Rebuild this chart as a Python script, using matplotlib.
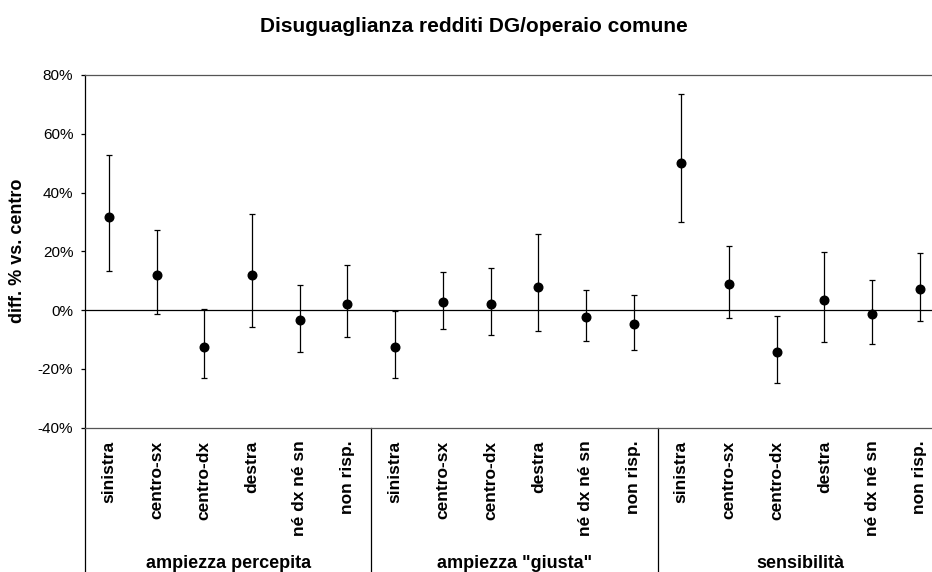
import numpy as np
import matplotlib
matplotlib.use('Agg')
import matplotlib.pyplot as plt
import matplotlib.ticker as ticker
import matplotlib.transforms as mtransforms

plt.rcParams['font.family'] = ['Liberation Sans', 'DejaVu Sans']

Categories = ['sinistra', 'centro-sx', 'centro-dx', 'destra', 'né dx né sn', 'non risp.']
Groups = ['ampiezza percepita', 'ampiezza "giusta"', 'sensibilità']

# stima (%) e intervallo (limite superiore / inferiore)
Mean = np.array([31.6, 11.8, -12.5, 11.8, -3.5, 2.0,
                 -12.5, 2.7, 2.0, 7.9, -2.4, -4.6,
                 50.2, 8.9, -14.3, 3.5, -1.4, 7.0])
Upper = np.array([52.7, 27.1, 0.2, 32.8, 8.6, 15.2,
                  -0.3, 13.0, 14.3, 25.8, 6.7, 5.2,
                  73.7, 21.8, -2.0, 19.9, 10.3, 19.3])
Lower = np.array([13.4, -1.5, -23.3, -5.9, -14.3, -9.3,
                  -23.1, -6.6, -8.6, -7.3, -10.6, -13.6,
                  30.0, -2.7, -25.0, -10.8, -11.7, -3.6])

Title = 'Disuguaglianza redditi DG/operaio comune'
YLabel = 'diff. % vs. centro'

W, H = 932.0, 572.0
fig = plt.figure(figsize=(W/100, H/100), dpi=100)
# the plot area runs past the right edge of the picture, like the original
ax = fig.add_axes([85.1/W, 1 - 427.5/H, 858.6/W, 352.5/H])

n_cat = len(Categories) * len(Groups)
x = np.arange(n_cat)
labels = Categories * len(Groups)

ax.axhline(0, color='k', lw=0.9, zorder=1)
ax.errorbar(x, Mean, yerr=[Mean - Lower, Upper - Mean], fmt='o', color='k',
            ecolor='k', elinewidth=0.9, capsize=2.5, capthick=0.9, ms=6.2, zorder=3)

ax.set_xlim(-0.5, n_cat - 0.5)
ax.set_ylim(-40, 80)
ax.yaxis.set_major_locator(ticker.MultipleLocator(20))
ax.yaxis.set_major_formatter(ticker.FuncFormatter(lambda v, p: '%d%%' % v))
ax.tick_params(axis='y', labelsize=11, length=3, width=0.9, pad=5.5)

ax.set_xticks(x)
ax.set_xticklabels(labels, rotation=90, fontsize=12.5, fontweight='bold', va='top')
ax.tick_params(axis='x', length=0, pad=9.5)

ax.spines['right'].set_visible(False)
ax.spines['top'].set_color('#555555')
ax.spines['bottom'].set_color('#555555')
ax.spines['left'].set_color('k')
for s in ['top', 'bottom', 'left']:
	ax.spines[s].set_linewidth(0.9)

# group separators under the category axis
trans = mtransforms.blended_transform_factory(ax.transData, ax.transAxes)
for xd in [-0.5, 5.5, 11.5]:
	ax.plot([xd, xd], [0, -0.5], color='k', lw=0.9, transform=trans, clip_on=False)

for g, name in enumerate(Groups):
	xc = g*len(Categories) + (len(Categories) - 1)/2.0
	ax.text(xc, 0, name, transform=trans, alpha=0)  # placeholder keeps axis layout
	xpix = 85.1 + (xc + 0.5) * 858.6/n_cat
	fig.text(xpix/W, 1 - 568/H, name, ha='center', va='baseline',
	         fontsize=13, fontweight='bold')

fig.text(473.5/W, 1 - 31.7/H, Title, ha='center', va='baseline', fontsize=15, fontweight='bold')
fig.text(18/W, 1 - 251/H, YLabel, ha='center', va='center', rotation=90,
         fontsize=13, fontweight='bold')

plt.savefig('out.png', dpi=100)
plt.close()
